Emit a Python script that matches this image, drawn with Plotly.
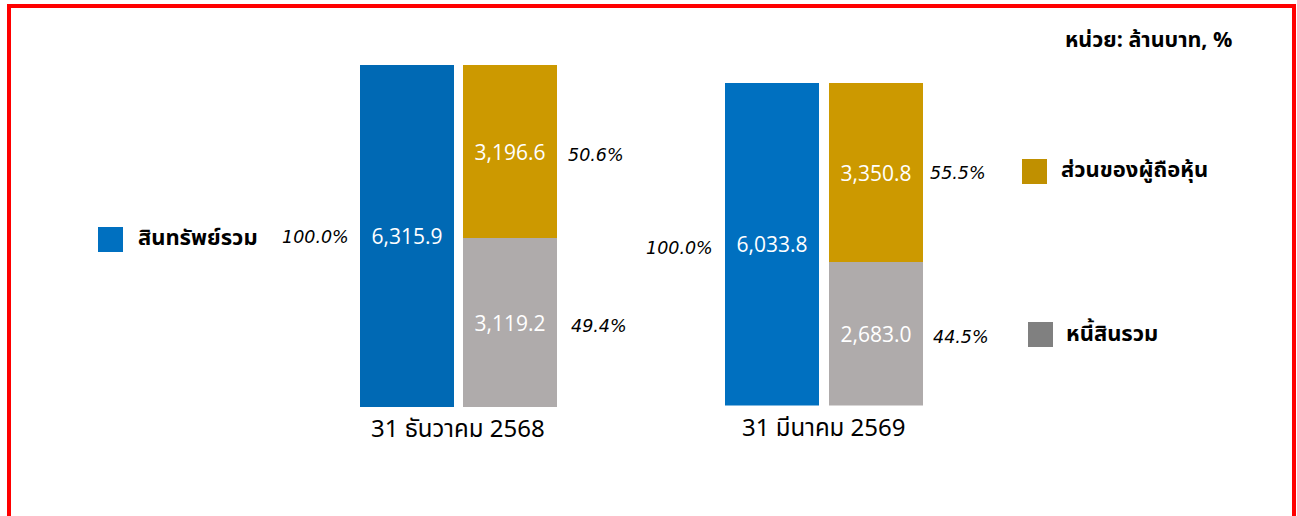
import plotly.graph_objects as go

# ---- data ----
periods = ["31 ธันวาคม 2568", "31 มีนาคม 2569"]
total_assets = [6315.9, 6033.8]
equity = [3196.6, 3350.8]
liabilities = [3119.2, 2683.0]
asset_pct = ["100.0%", "100.0%"]
equity_pct = ["50.6%", "55.5%"]
liab_pct = ["49.4%", "44.5%"]
series_names = ["สินทรัพย์รวม", "ส่วนของผู้ถือหุ้น", "หนี้สินรวม"]
unit_label = "หน่วย: ล้านบาท, %"
slots = ["assets", "split"]

# ---- styles ----
W, H = 1297, 516
blue_bar = ["#0069B4", "#0070C0"]
gold_bar = "#CC9900"
gray_bar = "#AFABAB"
legend_colors = ["#0070C0", "#C09000", "#808080"]
THAI = "Tahoma, 'Noto Sans Thai', 'Noto Sans', 'DejaVu Sans', sans-serif"
NUM = "'Open Sans', 'DejaVu Sans', sans-serif"
PCT = "'DejaVu Sans', sans-serif"

x_domains = [[355.5 / W, 561.5 / W], [720 / W, 928 / W]]
y_domains = [[1 - 407 / H, 1 - 65 / H], [1 - 405.5 / H, 1 - 83 / H]]

fig = go.Figure()
annotations = []
for i in range(2):
    xa = "x" if i == 0 else "x2"
    ya = "y" if i == 0 else "y2"
    fmt = lambda v: f"{v:,.1f}"
    fig.add_trace(go.Bar(x=[slots[0]], y=[total_assets[i]], marker_color=blue_bar[i],
                         text=[fmt(total_assets[i])], xaxis=xa, yaxis=ya, showlegend=False))
    fig.add_trace(go.Bar(x=[slots[1]], y=[liabilities[i]], marker_color=gray_bar,
                         text=[fmt(liabilities[i])], xaxis=xa, yaxis=ya, showlegend=False))
    fig.add_trace(go.Bar(x=[slots[1]], y=[equity[i]], marker_color=gold_bar,
                         text=[fmt(equity[i])], xaxis=xa, yaxis=ya, showlegend=False))
    pct_font = dict(family=PCT, size=17.5, color="#000000", style="italic")
    annotations += [
        dict(xref=xa, yref=ya, x=slots[0], y=total_assets[i] / 2, text=asset_pct[i],
             xanchor="right", xshift=-49.5 - (6 if i == 0 else 8), yshift=-1 if i == 0 else -4,
             showarrow=False, font=pct_font),
        dict(xref=xa, yref=ya, x=slots[1], y=liabilities[i] + equity[i] / 2, text=equity_pct[i],
             xanchor="left", xshift=52 + (4 if i == 0 else 0), yshift=-3 if i == 0 else 0,
             showarrow=False, font=pct_font),
        dict(xref=xa, yref=ya, x=slots[1], y=liabilities[i] / 2, text=liab_pct[i],
             xanchor="left", xshift=52 + (7 if i == 0 else 3), yshift=-3,
             showarrow=False, font=pct_font),
        dict(xref=f"{xa} domain", yref=f"{ya} domain", x=0.5, y=0, yanchor="top", yshift=-3,
             text=periods[i], showarrow=False, font=dict(family=THAI, size=24, color="#000000")),
    ]

fig.update_traces(textposition="inside", insidetextanchor="middle",
                  insidetextfont=dict(family=NUM, size=21, color="#FFFFFF"),
                  marker_line_width=0, hoverinfo="skip")

# legend swatches and labels
legend_pos = [(98, 227, 136, 239), (1022, 159, 1059, 171), (1028, 322, 1064, 334)]
shapes = []
for (sx, sy, tx, ty), name, col in zip(legend_pos, series_names, legend_colors):
    shapes.append(dict(type="rect", xref="paper", yref="paper",
                       x0=sx / W, x1=(sx + 25) / W, y0=1 - sy / H, y1=1 - (sy + 25) / H,
                       fillcolor=col, line=dict(width=0)))
    annotations.append(dict(xref="paper", yref="paper", x=tx / W, y=1 - ty / H,
                            xanchor="left", yanchor="middle", text=f"<b>{name}</b>",
                            showarrow=False, font=dict(family=THAI, size=22, color="#000000")))

annotations.append(dict(xref="paper", yref="paper", x=1234 / W, y=1 - 40 / H,
                        xanchor="right", yanchor="middle", text=f"<b>{unit_label}</b>",
                        showarrow=False, font=dict(family=THAI, size=21.5, color="#000000")))

# red frame
shapes.append(dict(type="rect", xref="paper", yref="paper",
                   x0=9 / W, x1=1294 / W, y0=1 - 6 / H, y1=-0.1,
                   line=dict(color="#FF0000", width=4), fillcolor="rgba(0,0,0,0)"))

axis_common = dict(visible=False, showgrid=False, zeroline=False, fixedrange=True)
fig.update_layout(
    width=W, height=H,
    margin=dict(l=0, r=0, t=0, b=0),
    paper_bgcolor="#FFFFFF", plot_bgcolor="#FFFFFF",
    barmode="stack", bargap=0.09,
    showlegend=False,
    xaxis=dict(domain=x_domains[0], type="category", categoryarray=slots,
               range=[-0.5, 1.5], anchor="y", **axis_common),
    yaxis=dict(domain=y_domains[0], range=[0, total_assets[0]], anchor="x", **axis_common),
    xaxis2=dict(domain=x_domains[1], type="category", categoryarray=slots,
                range=[-0.5, 1.5], anchor="y2", **axis_common),
    yaxis2=dict(domain=y_domains[1], range=[0, total_assets[1]], anchor="x2", **axis_common),
    shapes=shapes,
    annotations=annotations,
)

fig.write_html("out.html", config={"displayModeBar": False},
               post_script="document.body.style.margin='0px';document.body.style.overflow='hidden';")
